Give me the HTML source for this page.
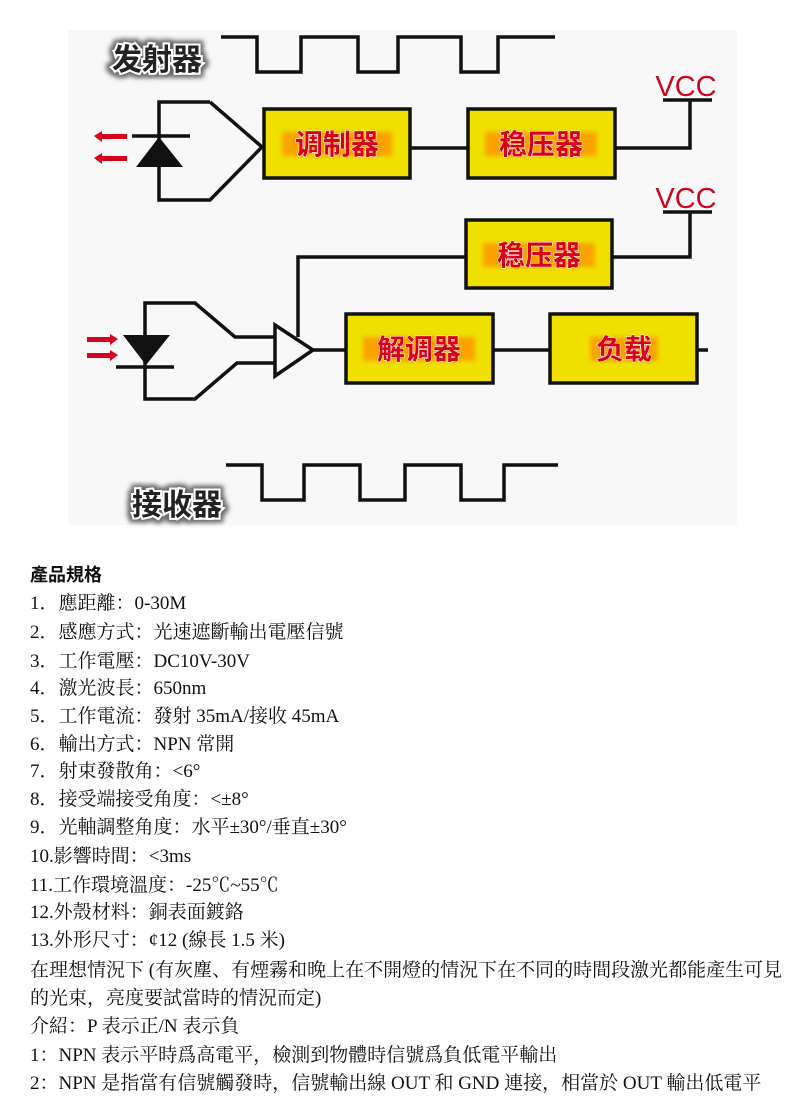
<!DOCTYPE html>
<html><head><meta charset="utf-8"><style>
body{margin:0;width:800px;height:1112px;background:#fff;position:relative;overflow:hidden;font-family:"Liberation Serif","Noto Serif CJK SC",serif;}
.l{position:absolute;left:30px;font-size:19px;color:#111;white-space:nowrap;line-height:22px;}
.h{font-family:"Liberation Sans","Noto Sans CJK TC",sans-serif;font-weight:bold;font-size:18px;}
svg{position:absolute;left:0;top:0}
.bx{fill:#efe000;stroke:#111;stroke-width:3.5}
.lb{font-family:"Liberation Sans","Noto Sans CJK SC",sans-serif;font-size:28px;font-weight:bold;fill:#d8001a;stroke:#fff;stroke-width:1;paint-order:stroke;}
.vc{font-family:"Liberation Sans",sans-serif;font-size:29px;fill:#d8001a;stroke:#fff;stroke-width:3;paint-order:stroke;}
.tt{font-family:"Liberation Sans","Noto Sans CJK SC",sans-serif;font-size:30px;font-weight:bold;fill:#222;stroke:#fff;stroke-width:4;paint-order:stroke;}
</style></head><body>
<svg width="800" height="540" viewBox="0 0 800 540">
<defs><filter id="g" x="-20%" y="-40%" width="140%" height="180%"><feGaussianBlur stdDeviation="2.5"/></filter>
<filter id="s" x="-20%" y="-40%" width="140%" height="180%">
<feMorphology in="SourceAlpha" operator="dilate" radius="3" result="d"/>
<feGaussianBlur in="d" stdDeviation="2.5" result="b"/>
<feFlood flood-color="#444" flood-opacity="0.8"/><feComposite in2="b" operator="in" result="sh"/>
<feMerge><feMergeNode in="sh"/><feMergeNode in="SourceGraphic"/></feMerge></filter></defs>
<rect x="68" y="30" width="669" height="495" fill="#f8f8f8"/>
<g fill="none" stroke="#111" stroke-width="3.5">
<polyline points="221,37 257,37 257,72 301,72 301,37 358,37 358,72 398,72 398,37 461,37 461,72 498,72 498,37 555,37"/>
<polyline points="226,465 262,465 262,500 304,500 304,465 360,465 360,500 405,500 405,465 461,465 461,500 504,500 504,465 558,465"/>
<polyline points="210,102 159,102 159,200 210,200 262,147 210,102"/>
<line x1="132" y1="136" x2="190" y2="136"/>
<line x1="410" y1="148" x2="468" y2="148"/>
<polyline points="615,148 690,148 690,100"/><line x1="663" y1="100" x2="712" y2="100"/>
<line x1="663" y1="212" x2="712" y2="212"/><polyline points="690,212 690,257 612,257"/>
<polyline points="466,257 298,257 298,337"/>
<polyline points="275,337 235,337 195,303 145,303 145,399 195,399 237,363 275,363"/>
<line x1="116" y1="367" x2="174" y2="367"/>
<polygon points="275,325 313,350 275,376"/>
<line x1="313" y1="350" x2="346" y2="350"/>
<line x1="493" y1="350" x2="550" y2="350"/>
<line x1="697" y1="350" x2="708" y2="350"/>
</g>
<polygon points="136,167 183,167 159,137" fill="#111"/>
<polygon points="123,335 170,335 146,365" fill="#111"/>
<g fill="#d8001a">
<polygon points="94,136 102,131 102,134 127,134 127,139 102,139 102,142"/>
<polygon points="94,158 102,153 102,156 127,156 127,161 102,161 102,164"/>
<polygon points="118,339 110,334 110,337 87,337 87,342 110,342 110,345"/>
<polygon points="118,355 110,350 110,353 87,353 87,358 110,358 110,361"/>
</g>
<rect class="bx" x="264" y="109" width="146" height="69"/>
<rect class="bx" x="468" y="109" width="147" height="69"/>
<rect class="bx" x="466" y="220" width="146" height="68"/>
<rect class="bx" x="346" y="314" width="147" height="69"/>
<rect class="bx" x="550" y="314" width="147" height="69"/>
<g filter="url(#g)" fill="#ff8a00" opacity="0.7">
<rect x="282" y="132" width="110" height="24"/><rect x="485" y="132" width="112" height="24"/>
<rect x="483" y="243" width="112" height="24"/><rect x="363" y="337" width="112" height="24"/>
<rect x="590" y="337" width="68" height="24"/>
</g>
<text class="lb" x="337" y="154" text-anchor="middle">调制器</text>
<text class="lb" x="541" y="154" text-anchor="middle">稳压器</text>
<text class="lb" x="539" y="265" text-anchor="middle">稳压器</text>
<text class="lb" x="419" y="359" text-anchor="middle">解调器</text>
<text class="lb" x="624" y="359" text-anchor="middle">负载</text>
<text class="vc" x="686" y="96" text-anchor="middle">VCC</text>
<text class="vc" x="686" y="208" text-anchor="middle">VCC</text>
<text class="tt" x="112" y="70" filter="url(#s)">发射器</text>
<text class="tt" x="132" y="515" filter="url(#s)">接收器</text>
</svg>
<div class="l h" style="top:564px">產品規格</div>
<div class="l" style="top:593px">1．應距離：0-30M</div>
<div class="l" style="top:622px">2．感應方式：光速遮斷輸出電壓信號</div>
<div class="l" style="top:651px">3．工作電壓：DC10V-30V</div>
<div class="l" style="top:678px">4．激光波長：650nm</div>
<div class="l" style="top:706px">5．工作電流：發射 35mA/接收 45mA</div>
<div class="l" style="top:734px">6．輸出方式：NPN 常開</div>
<div class="l" style="top:761px">7．射束發散角：&lt;6°</div>
<div class="l" style="top:789px">8．接受端接受角度：&lt;±8°</div>
<div class="l" style="top:817px">9．光軸調整角度：水平±30°/垂直±30°</div>
<div class="l" style="top:846px">10.影響時間：&lt;3ms</div>
<div class="l" style="top:875px">11.工作環境溫度：-25℃~55℃</div>
<div class="l" style="top:902px">12.外殼材料：銅表面鍍鉻</div>
<div class="l" style="top:930px">13.外形尺寸：¢12 (線長 1.5 米)</div>
<div class="l" style="top:960px">在理想情況下 (有灰塵、有煙霧和晚上在不開燈的情況下在不同的時間段激光都能產生可見</div>
<div class="l" style="top:988px">的光束，亮度要試當時的情況而定)</div>
<div class="l" style="top:1016px">介紹：P 表示正/N 表示負</div>
<div class="l" style="top:1045px">1：NPN 表示平時爲高電平，檢測到物體時信號爲負低電平輸出</div>
<div class="l" style="top:1073px">2：NPN 是指當有信號觸發時，信號輸出線 OUT 和 GND 連接，相當於 OUT 輸出低電平</div>
</body></html>
